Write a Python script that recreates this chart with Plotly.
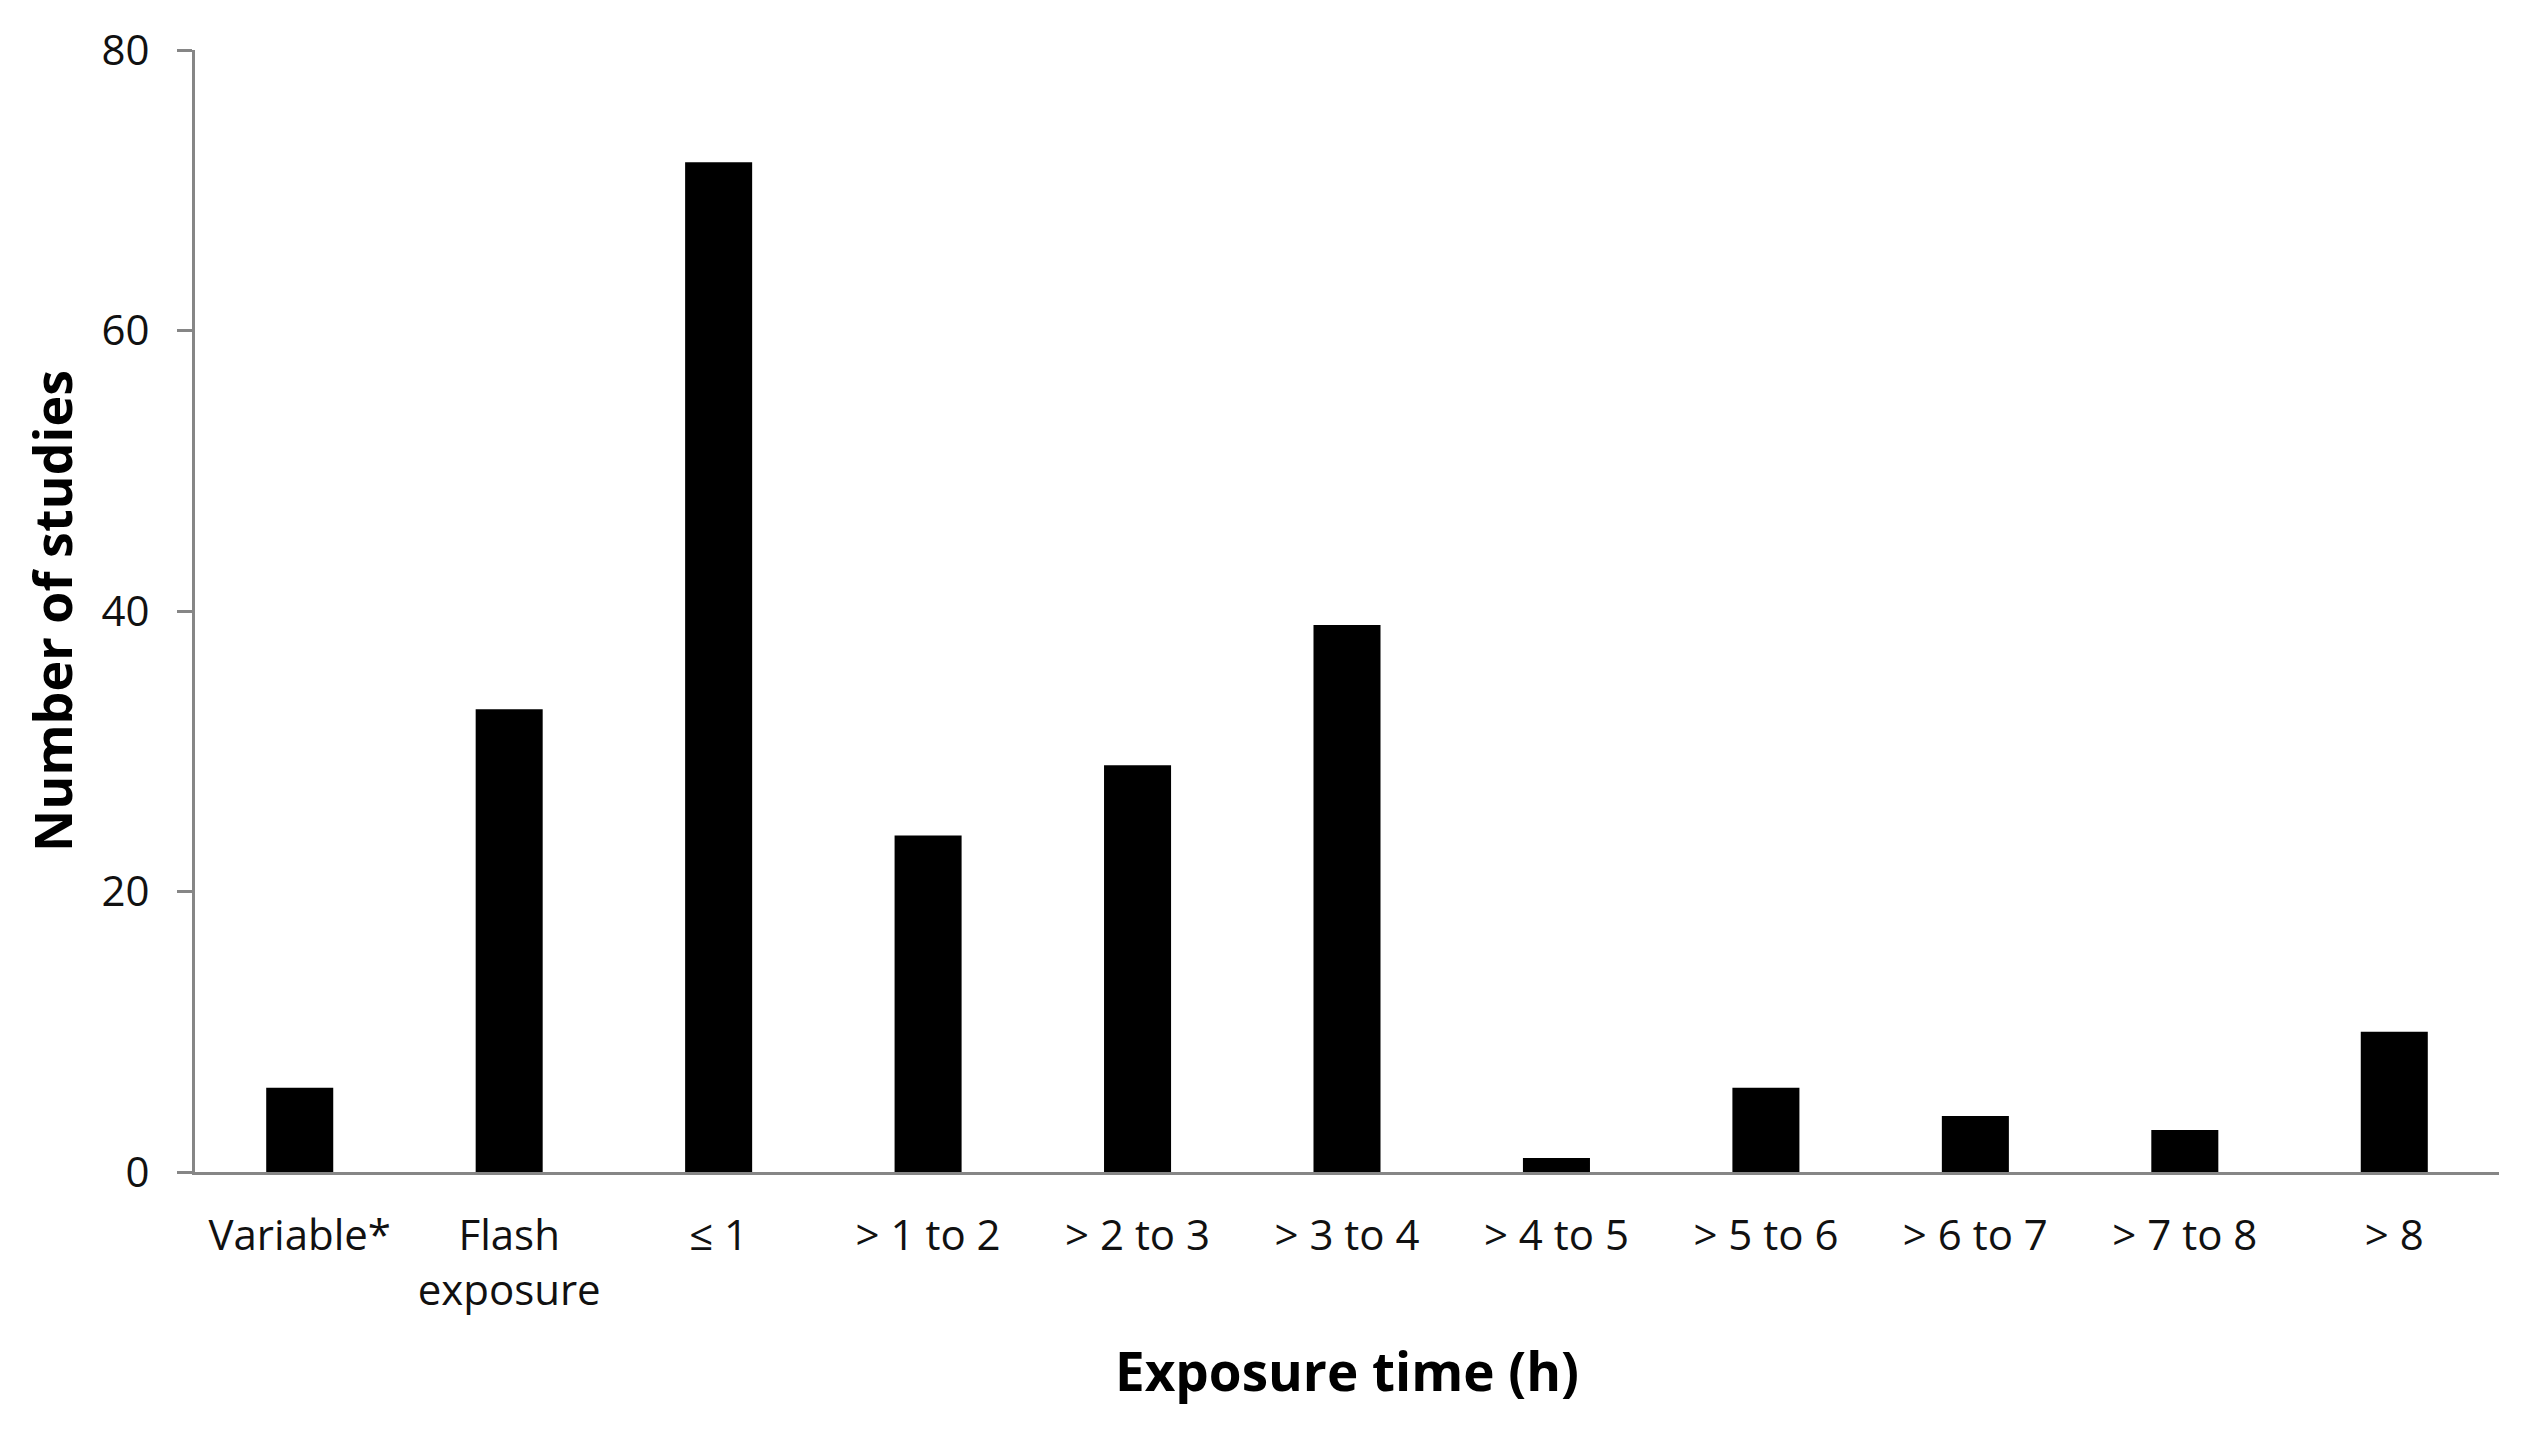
import plotly.graph_objects as go

categories = ["Variable*", "Flash<br>exposure", "≤ 1", "> 1 to 2", "> 2 to 3", "> 3 to 4",
              "> 4 to 5", "> 5 to 6", "> 6 to 7", "> 7 to 8", "> 8"]
studies = [6, 33, 72, 24, 29, 39, 1, 6, 4, 3, 10]
y_ticks = [0, 20, 40, 60, 80]

axis_grey = "#868686"
font_name = "Open Sans"

fig = go.Figure(go.Bar(x=categories, y=studies, marker_color="black",
                       marker_line_width=0))

fig.update_layout(
    width=2534, height=1430,
    margin=dict(l=187, r=43, t=42, b=266),
    plot_bgcolor="white", paper_bgcolor="white",
    bargap=0.68, showlegend=False,
    font=dict(family=font_name, color="black", size=40),
)

fig.update_xaxes(
    showline=True, linecolor=axis_grey, linewidth=3,
    ticks="", ticklabelstandoff=25,
    tickfont=dict(size=42, family=font_name, color="#111"),
    title=dict(text="<b>Exposure time (h)</b>", font=dict(size=53, family=font_name),
               standoff=38),
)

fig.update_yaxes(
    range=[0, 80], tickvals=y_ticks, showgrid=False, zeroline=False,
    showline=True, linecolor=axis_grey, linewidth=3,
    ticks="outside", ticklen=15, tickcolor=axis_grey, tickwidth=3,
    ticklabelstandoff=19,
    tickfont=dict(size=42, family=font_name, color="#111"),
    title=dict(text="<b>Number of studies</b>", font=dict(size=52, family=font_name),
               standoff=13),
)

fig.write_html("out.html")
